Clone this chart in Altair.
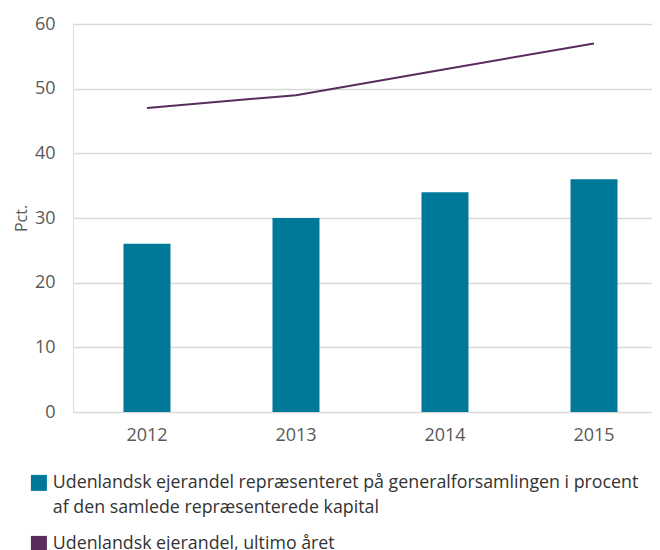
import altair as alt
import pandas as pd

years = ["2012", "2013", "2014", "2015"]
represented = [26, 30, 34, 36]
ownership = [47, 49, 53, 57]
bar_name = "Udenlandsk ejerandel repræsenteret på generalforsamlingen i procent|af den samlede repræsenterede kapital"
line_name = "Udenlandsk ejerandel, ultimo året"
y_ticks = [0, 10, 20, 30, 40, 50, 60]

TEAL = "#00789a"
PURPLE = "#5a2c5e"
FONT = "Open Sans"

bars_df = pd.DataFrame({"year": years, "value": represented, "series": bar_name})
line_df = pd.DataFrame({"year": years, "value": ownership, "series": line_name})

x = alt.X(
    "year:O",
    title=None,
    scale=alt.Scale(paddingInner=0.6846, paddingOuter=0.2852, align=0.594),
    axis=alt.Axis(labelAngle=0, ticks=False, domain=False, labelPadding=14,
                  labelFontSize=18, labelColor="#595959", labelFont=FONT),
)
y = alt.Y(
    "value:Q",
    title="Pct.",
    scale=alt.Scale(domain=[0, 60], nice=False),
    axis=alt.Axis(values=y_ticks, ticks=False, domain=False, labelPadding=18,
                  labelFontSize=18, labelColor="#595959", labelFont=FONT,
                  gridColor="#d9d9d9", gridWidth=1.3,
                  titleFont=FONT, titleFontSize=16, titleFontWeight="normal",
                  titleColor="#595959", titlePadding=5),
)

bars = alt.Chart(bars_df).mark_bar(color=TEAL).encode(
    x=x,
    y=y,
    color=alt.Color(
        "series:N",
        scale=alt.Scale(domain=[bar_name, line_name], range=[TEAL, PURPLE]),
        legend=alt.Legend(
            title=None, orient="none", legendX=-43, legendY=450,
            direction="vertical", symbolType="square", symbolSize=256,
            symbolStrokeWidth=0, labelFontSize=17.8, labelFont=FONT,
            labelColor="#333333", labelLimit=700, labelOffset=5,
            labelExpr="split(datum.label, '|')", rowPadding=17,
        ),
    ),
)

line = alt.Chart(line_df).mark_line(color=PURPLE, strokeWidth=2).encode(x=x, y=y)

chart = alt.layer(bars, line).properties(
    width=579, height=388, padding={"top": 7, "left": 5, "right": 0, "bottom": 0}
).configure_view(stroke=None).configure(
    font=FONT, style={"guide-label": {"lineHeight": 25}}
)

chart.save("out.html", embed_options={"renderer": "svg", "actions": False})
